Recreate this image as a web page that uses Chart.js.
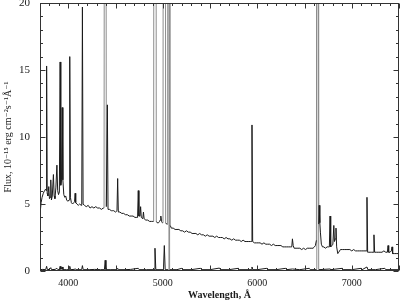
<!DOCTYPE html>
<html>
<head>
<meta charset="utf-8">
<script src="https://cdn.jsdelivr.net/npm/chart.js@4/dist/chart.umd.min.js"></script>
<style>
  html, body { margin: 0; padding: 0; background: #fff; }
  #c { display: block; }
</style>
</head>
<body>
<canvas id="c" width="400" height="300"></canvas>
<script>
// ---- data: [wavelength (Å), flux (1e-15 erg/cm2/s/Å)] ----
const mainSpectrum = [
  [3700,5.3],[3705,4.6],[3712,5.1],[3722,5.5],[3735,5.8],[3748,6.0],[3758,6.1],[3764,6.0],
  [3770,15.3],[3776,5.8],[3784,5.6],[3793,6.3],[3800,5.4],[3807,5.5],[3814,6.8],[3821,5.3],
  [3830,5.6],[3842,7.2],[3850,5.6],[3858,5.4],[3868,6.2],[3879,7.9],[3887,6.0],[3896,5.7],
  [3905,5.9],[3913,15.6],[3920,6.4],[3928,6.8],[3935,12.2],[3942,6.8],[3952,5.7],[3962,5.5],
  [3972,5.6],[3982,5.3],[3995,5.2],[4008,5.3],[4015,16.0],[4022,5.5],[4032,5.1],[4045,5.0],
  [4058,5.1],[4066,5.2],[4072,5.8],[4078,5.1],[4090,5.0],[4105,4.9],[4120,5.0],[4135,4.9],
  [4142,5.0],[4149,19.7],[4156,5.0],[4170,4.9],[4190,4.8],[4210,4.9],[4230,4.7],[4250,4.8],
  [4270,4.7],[4290,4.8],[4310,4.7],[4330,4.7],[4350,4.6],[4370,4.7],[4378,4.7],[4390,120],
  [4402,4.8],[4406,4.8],[4413,12.4],[4420,4.6],[4435,4.6],[4455,4.5],[4470,4.5],[4480,4.5],
  [4500,4.4],[4515,4.5],[4522,6.9],[4529,4.4],[4545,4.4],[4565,4.3],[4585,4.3],[4605,4.2],
  [4625,4.2],[4645,4.1],[4665,4.1],[4685,4.1],[4705,4.0],[4725,4.0],[4733,4.0],[4740,6.0],
  [4747,4.1],[4758,4.1],[4765,4.8],[4772,4.0],[4788,3.9],[4795,4.4],[4802,3.9],[4820,3.8],
  [4840,3.8],[4860,3.7],[4880,3.7],[4895,3.7],[4903,3.7],[4917,200],[4931,3.7],[4940,3.6],
  [4955,3.6],[4965,3.7],[4972,3.8],[4979,4.1],[4986,3.7],[4995,3.6],[5002,3.6],[5016,200],
  [5030,3.6],[5040,3.5],[5051,3.5],[5065,200],[5079,3.4],[5090,3.2],[5110,3.2],[5130,3.1],
  [5150,3.1],[5170,3.1],[5190,3.0],[5210,3.0],[5230,2.9],[5250,3.0],[5270,2.9],[5290,2.9],
  [5310,2.8],[5330,2.8],[5350,2.8],[5370,2.7],[5390,2.8],[5410,2.7],[5430,2.7],[5450,2.6],
  [5470,2.7],[5490,2.6],[5510,2.6],[5530,2.6],[5550,2.5],[5570,2.6],[5590,2.5],[5610,2.5],
  [5630,2.5],[5650,2.4],[5670,2.5],[5690,2.4],[5710,2.4],[5730,2.3],[5750,2.4],[5770,2.3],
  [5790,2.3],[5810,2.3],[5830,2.2],[5850,2.3],[5870,2.2],[5890,2.2],[5910,2.2],[5930,2.2],
  [5937,2.2],[5944,10.9],[5951,2.2],[5970,2.1],[5990,2.1],[6010,2.1],[6030,2.1],[6050,2.0],
  [6070,2.1],[6090,2.0],[6110,2.0],[6130,2.0],[6150,1.9],[6170,2.0],[6190,1.9],[6210,1.9],
  [6230,1.9],[6250,1.9],[6270,1.8],[6290,1.8],[6310,1.8],[6330,1.8],[6350,1.8],[6365,1.8],
  [6372,2.4],[6380,1.9],[6390,1.7],[6410,1.7],[6430,1.7],[6450,1.7],[6470,1.6],[6490,1.7],
  [6510,1.6],[6530,1.7],[6550,1.7],[6570,1.7],[6590,1.7],[6605,1.8],[6615,1.9],[6626,2.3],
  [6640,200],[6650,3.5],[6655,4.9],[6662,3.6],[6668,2.9],[6678,2.0],[6690,1.8],[6705,1.8],
  [6720,1.7],[6740,1.8],[6755,1.8],[6763,1.8],[6770,4.1],[6777,1.8],[6790,1.9],[6800,2.0],
  [6810,3.4],[6817,2.2],[6826,2.4],[6833,3.2],[6840,1.8],[6852,1.3],[6862,1.4],[6880,1.6],
  [6900,1.6],[6920,1.6],[6940,1.6],[6960,1.6],[6980,1.6],[7000,1.5],[7020,1.6],[7040,1.5],
  [7060,1.5],[7080,1.5],[7100,1.5],[7120,1.5],[7140,1.5],[7154,1.5],[7161,5.5],[7168,1.4],
  [7180,1.4],[7195,1.4],[7210,1.4],[7228,1.4],[7235,2.7],[7242,1.4],[7260,1.4],[7280,1.4],
  [7300,1.4],[7320,1.4],[7340,1.5],[7360,1.4],[7377,1.4],[7384,1.9],[7391,1.4],[7405,1.4],
  [7419,1.5],[7426,1.8],[7433,1.3],[7450,1.3],[7470,1.3],[7490,1.3],[7500,1.3]
];
const lowerSpectrum = [
  [3700,0.1],[3730,0.12],[3760,0.1],[3770,0.35],[3778,0.1],[3800,0.12],[3814,0.25],[3822,0.1],
  [3860,0.12],[3879,0.2],[3890,0.1],[3905,0.1],[3913,0.35],[3921,0.12],[3935,0.3],[3943,0.1],
  [3980,0.1],[4008,0.1],[4015,0.35],[4023,0.1],[4060,0.12],[4072,0.15],[4090,0.1],[4141,0.1],
  [4149,0.4],[4157,0.1],[4220,0.1],[4280,0.12],[4340,0.1],[4382,0.1],[4390,0.8],[4398,0.1],
  [4450,0.1],[4515,0.1],[4522,0.2],[4530,0.1],[4600,0.1],[4660,0.12],[4740,0.2],[4750,0.1],
  [4830,0.1],[4908,0.1],[4917,1.7],[4926,0.1],[5007,0.1],[5016,1.9],[5025,0.1],[5058,0.1],
  [5065,60],[5072,0.1],[5150,0.1],[5200,0.2],[5210,0.1],[5300,0.1],[5400,0.2],[5410,0.1],
  [5500,0.1],[5600,0.22],[5610,0.1],[5700,0.1],[5800,0.2],[5810,0.1],[5936,0.1],[5944,0.3],
  [5952,0.1],[6000,0.1],[6100,0.2],[6110,0.1],[6200,0.1],[6300,0.2],[6310,0.1],[6372,0.15],
  [6450,0.1],[6550,0.2],[6560,0.1],[6630,0.1],[6640,200],[6650,0.1],[6770,0.15],[6780,0.1],
  [6900,0.2],[6910,0.1],[7000,0.1],[7100,0.2],[7110,0.1],[7161,0.3],[7170,0.1],[7250,0.1],
  [7350,0.2],[7360,0.1],[7500,0.1]
];
const xRange = [3700, 7500];
const yRange = [0, 20];
const xTickLabels = [4000, 5000, 6000, 7000];
const yTickLabels = [0, 5, 10, 15, 20];
const xMinorStep = 100, xMajorStep = 500;
const yMinorStep = 1, yMajorStep = 5;
const xTitle = 'Wavelength, Å';
const yTitle = 'Flux, 10⁻¹⁵ erg cm⁻²s⁻¹Å⁻¹';

const serif = '"Liberation Serif", "DejaVu Serif", serif';
const ink = '#1a1a1a';
const saturatedInk = '#8c8c8c';

const frameTicks = {
  id: 'frameTicks',
  afterDatasetsDraw(chart) {
    const { ctx, chartArea: a, scales: { x, y } } = chart;
    ctx.save();
    ctx.strokeStyle = '#333';
    ctx.lineWidth = 1;
    const L = Math.round(a.left) + 0.5, R = Math.round(a.right) - 0.5;
    const T = Math.round(a.top) + 0.5, B = Math.round(a.bottom) - 0.5;
    ctx.strokeRect(L, T, R - L, B - T);
    ctx.beginPath();
    for (let v = Math.ceil(xRange[0] / xMinorStep) * xMinorStep; v <= xRange[1]; v += xMinorStep) {
      const px = Math.round(x.getPixelForValue(v)) + 0.5;
      const len = v % xMajorStep === 0 ? 5 : 2.5;
      ctx.moveTo(px, T); ctx.lineTo(px, T + len);
      ctx.moveTo(px, B); ctx.lineTo(px, B - len);
    }
    for (let v = yRange[0]; v <= yRange[1]; v += yMinorStep) {
      const py = Math.round(y.getPixelForValue(v)) + 0.5;
      const len = v % yMajorStep === 0 ? 5 : 2.5;
      ctx.moveTo(L, py); ctx.lineTo(L + len, py);
      ctx.moveTo(R, py); ctx.lineTo(R - len, py);
    }
    ctx.stroke();
    ctx.restore();
  }
};

const satSegment = {
  borderColor: c => (c.p0.parsed.y > yRange[1] || c.p1.parsed.y > yRange[1]) ? saturatedInk : undefined
};

new Chart(document.getElementById('c'), {
  type: 'line',
  data: {
    datasets: [
      { data: mainSpectrum.map(p => ({ x: p[0], y: p[1] })), borderColor: ink, borderWidth: 1, pointRadius: 0, tension: 0, segment: satSegment },
      { data: lowerSpectrum.map(p => ({ x: p[0], y: p[1] })), borderColor: ink, borderWidth: 1, pointRadius: 0, tension: 0, segment: satSegment }
    ]
  },
  options: {
    responsive: false,
    animation: false,
    devicePixelRatio: 1,
    layout: { padding: { top: 3, right: 1, left: 0, bottom: 0 } },
    plugins: { legend: { display: false }, tooltip: { enabled: false } },
    scales: {
      x: {
        type: 'linear', min: xRange[0], max: xRange[1],
        afterBuildTicks: s => { s.ticks = xTickLabels.map(v => ({ value: v })); },
        afterFit: s => { s.height = 29; s.paddingLeft = 0; s.paddingRight = 0; },
        grid: { display: false, drawTicks: false },
        border: { display: false },
        ticks: { color: ink, padding: 6, maxRotation: 0, font: { family: serif, size: 10 }, callback: v => String(v) },
        title: { display: true, text: xTitle, color: ink, font: { family: serif, size: 10, weight: 'bold', lineHeight: 1 }, padding: { top: 0, bottom: 0 } }
      },
      y: {
        type: 'linear', min: yRange[0], max: yRange[1],
        afterBuildTicks: s => { s.ticks = yTickLabels.map(v => ({ value: v })); },
        afterFit: s => { s.width = 40; s.paddingTop = 0; s.paddingBottom = 0; },
        grid: { display: false, drawTicks: false },
        border: { display: false },
        ticks: { color: ink, padding: 10, font: { family: serif, size: 11 }, callback: v => String(v) },
        title: { display: true, text: yTitle, color: ink, font: { family: serif, size: 10 }, padding: { top: 2, bottom: 0 } }
      }
    }
  },
  plugins: [frameTicks]
});
</script>
</body>
</html>
